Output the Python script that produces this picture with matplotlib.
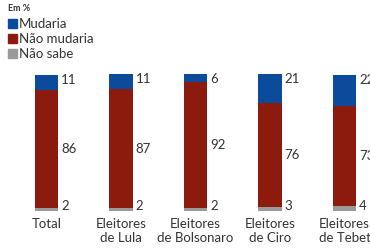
import numpy as np
import matplotlib.pyplot as plt
from matplotlib.patches import Rectangle

plt.rcParams['font.family'] = ['Lato', 'DejaVu Sans']

grupos = ['Total', 'Eleitores\nde Lula', 'Eleitores\nde Bolsonaro', 'Eleitores\nde Ciro', 'Eleitores\nde Tebet']
mudaria = [11, 11, 6, 21, 22]
nao_mudaria = [86, 87, 92, 76, 73]
nao_sabe = [2, 2, 2, 3, 4]

cor_azul = '#0c4a9b'
cor_verm = '#8c1b0d'
cor_cinza = '#9a9a9a'
cor_txt = '#333333'

fig = plt.figure(figsize=(3.7, 2.5), dpi=100)
ax = fig.add_axes([0, 0.156, 1, 0.548])

x = np.arange(len(grupos))
w = 0.31
ns = np.array(nao_sabe)
nm = np.array(nao_mudaria)
mu = np.array(mudaria)

ax.bar(x, ns, w, color=cor_cinza)
ax.bar(x, nm, w, bottom=ns, color=cor_verm)
ax.bar(x, mu, w, bottom=ns + nm, color=cor_azul)

for i in range(len(grupos)):
    xt = x[i] + w / 2 + 0.04
    topo = ns[i] + nm[i] + mu[i]
    ax.text(xt, topo + 1, str(mu[i]), va='top', ha='left', fontsize=9.5, color=cor_txt)
    ax.text(xt, ns[i] + nm[i] / 2, str(nm[i]), va='center', ha='left', fontsize=9.5, color=cor_txt)
    ax.text(xt, -1, str(ns[i]), va='bottom', ha='left', fontsize=9.5, color=cor_txt)
    ax.text(x[i], -5, grupos[i], va='top', ha='center', fontsize=9.5, color=cor_txt,
            linespacing=1.25)

ax.set_xlim(-0.624, 4.342)
ax.set_ylim(0, 100)
ax.axis('off')

# legenda
fig.text(0.022, 0.965, 'Em %', fontsize=6.5, fontweight='bold', color=cor_txt, va='center')
itens = [('Mudaria', cor_azul), ('Não mudaria', cor_verm), ('Não sabe', cor_cinza)]
for k, (nome, cor) in enumerate(itens):
    y = 0.905 - k * 0.06
    fig.patches.append(Rectangle((0.022, y - 0.018), 0.025, 0.037, color=cor,
                                 transform=fig.transFigure, figure=fig))
    fig.text(0.052, y, nome, fontsize=9.5, color=cor_txt, va='center')

fig.savefig('out.png', dpi=100)
